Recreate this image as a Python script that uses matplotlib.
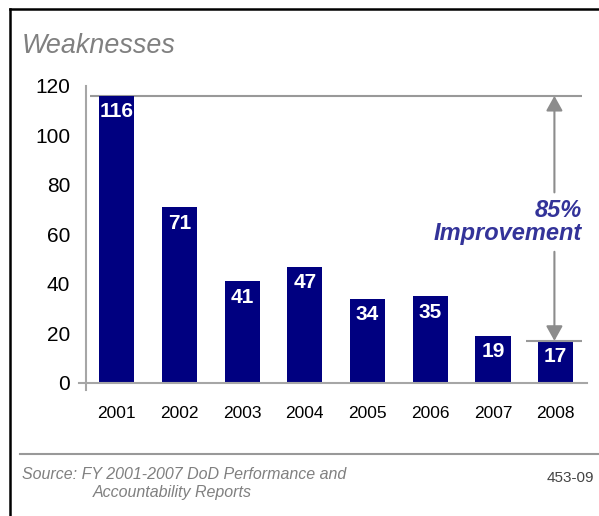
import matplotlib

matplotlib.use("Agg")
import matplotlib.pyplot as plt
from matplotlib.lines import Line2D

plt.rcParams["font.family"] = ["Liberation Sans", "DejaVu Sans"]

# data
years = ["2001", "2002", "2003", "2004", "2005", "2006", "2007", "2008"]
weaknesses = [116, 71, 41, 47, 34, 35, 19, 17]
y_ticks = [0, 20, 40, 60, 80, 100, 120]

navy = "#000080"
gray = "#a6a6a6"
purple = "#333399"

fig = plt.figure(figsize=(5.99, 5.16), dpi=100, facecolor="white")
ax = fig.add_axes([0.1436, 0.2578, 0.8364, 0.5756])

x = list(range(len(years)))
bars = ax.bar(x, weaknesses, width=0.56, color=navy, zorder=2)

# value labels inside bars
for xi, v in zip(x, weaknesses):
    ax.annotate(
        str(v),
        xy=(xi, v),
        xytext=(0, -11.5),
        textcoords="offset points",
        ha="center",
        va="center",
        color="white",
        fontsize=15,
        fontweight="bold",
        zorder=3,
    )

ax.set_xlim(-0.49, 7.5)
ax.set_ylim(0, 120)
ax.set_xticks(x)
ax.set_xticklabels(years, fontsize=12.5)
ax.set_yticks(y_ticks)
ax.set_yticklabels([str(t) for t in y_ticks], fontsize=15)
ax.tick_params(axis="x", length=0, pad=16.5)
ax.tick_params(axis="y", length=0, pad=11.5)

for s in ["top", "right"]:
    ax.spines[s].set_visible(False)
for s in ["left", "bottom"]:
    ax.spines[s].set_color(gray)
    ax.spines[s].set_linewidth(1.5)
ax.spines["left"].set_bounds(-3, 120)
ax.spines["bottom"].set_bounds(-0.6, 7.5)

# improvement annotation
first, last = weaknesses[0], weaknesses[-1]
xl = x[-1]
ax.hlines(first, -0.42, xl + 0.42, color="#999999", lw=1.5, zorder=1)
ax.hlines(last, xl - 0.47, xl + 0.42, color="#999999", lw=1.5, zorder=3)

arrow_kw = dict(
    arrowstyle="-|>,head_length=0.9,head_width=0.5",
    color="#8c8c8c",
    lw=1.5,
    shrinkA=0,
    shrinkB=0,
)
ax.annotate("", xy=(xl - 0.02, first), xytext=(xl - 0.02, 77), arrowprops=arrow_kw)
ax.annotate("", xy=(xl - 0.02, last), xytext=(xl - 0.02, 53), arrowprops=arrow_kw)

pct = round(100 * (first - last) / first)
ax.text(
    xl + 0.42,
    65,
    f"{pct}%\nImprovement",
    ha="right",
    va="center",
    multialignment="right",
    linespacing=1.0,
    color=purple,
    fontsize=17,
    fontweight="bold",
    fontstyle="italic",
)

# title and footer
fig.text(0.0367, 0.897, "Weaknesses", fontsize=19.4, fontstyle="italic",
         color="#808080", va="baseline")
fig.text(0.0367, 0.0717, "Source: FY 2001-2007 DoD Performance and",
         fontsize=11.5, fontstyle="italic", color="#808080", va="baseline")
fig.text(0.155, 0.0368, "Accountability Reports",
         fontsize=11.5, fontstyle="italic", color="#808080", va="baseline")
fig.text(0.992, 0.066, "453-09", fontsize=11, color="#444444",
         ha="right", va="baseline")

fig.add_artist(Line2D([0.033, 1.0], [0.120, 0.120], color="#999999", lw=1.5))

# frame on left and top
fig.add_artist(Line2D([0.0175, 0.0175], [0.0, 0.9816], color="black", lw=1.8))
fig.add_artist(Line2D([0.0175, 1.0], [0.9816, 0.9816], color="black", lw=1.8))

fig.savefig("out.png", dpi=100)
